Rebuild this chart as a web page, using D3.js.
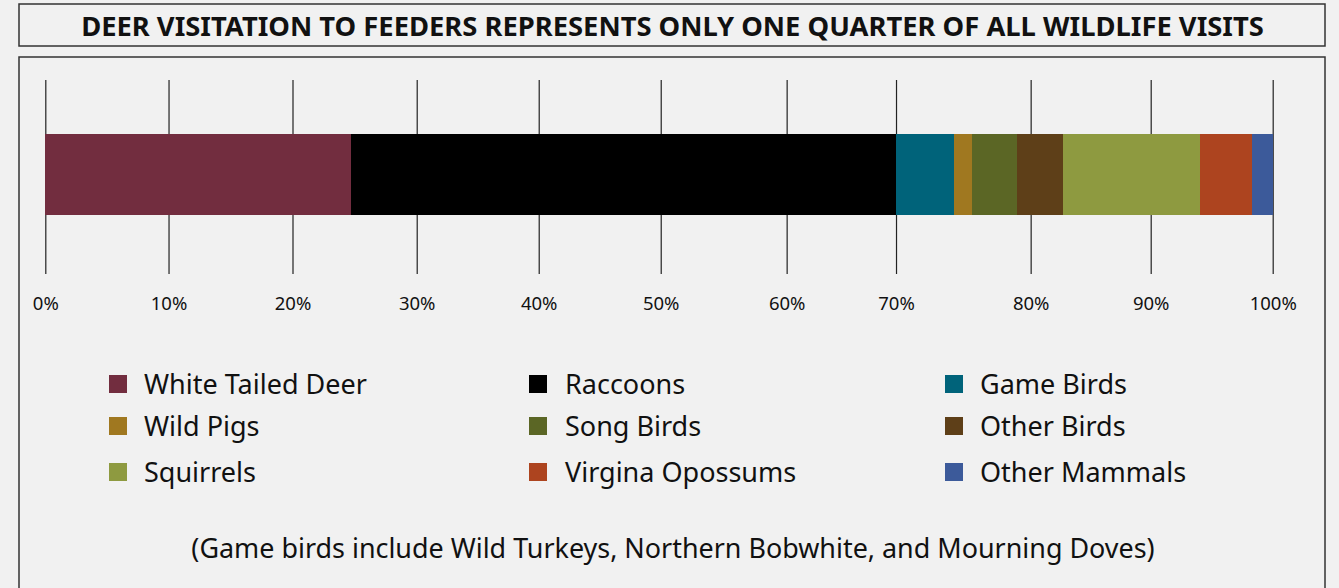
<!DOCTYPE html>
<html><head><meta charset="utf-8">
<script src="https://cdn.jsdelivr.net/npm/d3@7"></script>
<style>
html,body{margin:0;padding:0;background:#f1f1f1;}
svg{display:block;}
text{font-family:"Noto Sans","DejaVu Sans",sans-serif;fill:#111;}
</style></head>
<body>
<svg id="chart" width="1339" height="588"></svg>
<script>
const categories = ["White Tailed Deer","Raccoons","Game Birds","Wild Pigs","Song Birds","Other Birds","Squirrels","Virgina Opossums","Other Mammals"];
const values = [24.9, 44.4, 4.7, 1.5, 3.7, 3.7, 11.2, 4.2, 1.7];
const colors = ["#722d3f","#000000","#00637a","#a07820","#5b6625","#5e3f18","#8e9a40","#ad441f","#3c5a9a"];
// gridline positions as drawn in the source (slightly uneven spacing)
const tickValues = [0,10.04,20.14,30.26,40.2,50.14,60.4,69.31,80.28,90.06,100];
const tickLabels = ["0%","10%","20%","30%","40%","50%","60%","70%","80%","90%","100%"];
const legendOrder = [[0,1,2],[3,4,5],[6,7,8]];
const title = "DEER VISITATION TO FEEDERS REPRESENTS ONLY ONE QUARTER OF ALL WILDLIFE VISITS";
const footnote = "(Game birds include Wild Turkeys, Northern Bobwhite, and Mourning Doves)";

const svg = d3.select("#chart");
svg.append("rect").attr("width",1339).attr("height",588).attr("fill","#f1f1f1");

function fit(sel, target){
  const w = sel.node().getComputedTextLength();
  const fs = parseFloat(sel.attr("font-size"));
  sel.attr("font-size", fs*target/w);
}

// title box
svg.append("rect").attr("x",19).attr("y",4).attr("width",1306).attr("height",42)
  .attr("fill","#f1f1f1").attr("stroke","#333").attr("stroke-width",1.5);
const t = svg.append("text").attr("x",672.5).attr("y",36).attr("text-anchor","middle")
  .attr("font-weight","bold").attr("font-size",24).text(title);
fit(t,1183);

// chart box
svg.append("rect").attr("x",19).attr("y",57).attr("width",1306).attr("height",540)
  .attr("fill","#f1f1f1").attr("stroke","#333").attr("stroke-width",1.5);

const x = d3.scaleLinear().domain([0,100]).range([45.3,1272.7]);

// gridlines + labels
const g = svg.append("g").attr("transform","translate(0,80)");
const axis = d3.axisBottom(x).tickValues(tickValues).tickSize(194).tickPadding(0)
  .tickFormat((d,i)=>tickLabels[i]);
g.call(axis);
g.select(".domain").remove();
g.selectAll(".tick line").attr("stroke","#222").attr("stroke-width",1.2);
g.selectAll(".tick text").attr("y",230).attr("dy",0).attr("font-size",18.5)
  .attr("font-family",'"Noto Sans","DejaVu Sans",sans-serif').attr("fill","#111");

// stacked bar
let cum = 0;
const segs = values.map((v,i)=>{const s={i,x0:cum,x1:cum+v}; cum+=v; return s;});
svg.append("g").selectAll("rect").data(segs).join("rect")
  .attr("x",d=>x(d.x0)).attr("width",d=>x(d.x1)-x(d.x0))
  .attr("y",134).attr("height",81)
  .attr("fill",d=>colors[d.i]).attr("shape-rendering","crispEdges");

// legend
const colSq = [109,529,945], colTx = [144,565,980], rowY = [384,426,472];
const lg = svg.append("g");
const probe = lg.append("text").attr("font-size",24).text(categories[0]);
const legendFs = 24*223/probe.node().getComputedTextLength();
probe.remove();
legendOrder.forEach((row,r)=>row.forEach((ci,c)=>{
  lg.append("rect").attr("x",colSq[c]).attr("y",rowY[r]-9).attr("width",18).attr("height",18)
    .attr("fill",colors[ci]);
  lg.append("text").attr("x",colTx[c]).attr("y",rowY[r]).attr("dy","0.36em")
    .attr("font-size",legendFs).text(categories[ci]);
}));

// footnote
const f = svg.append("text").attr("x",673).attr("y",558).attr("text-anchor","middle")
  .attr("font-size",22).text(footnote);
fit(f,964);
</script>
</body></html>
